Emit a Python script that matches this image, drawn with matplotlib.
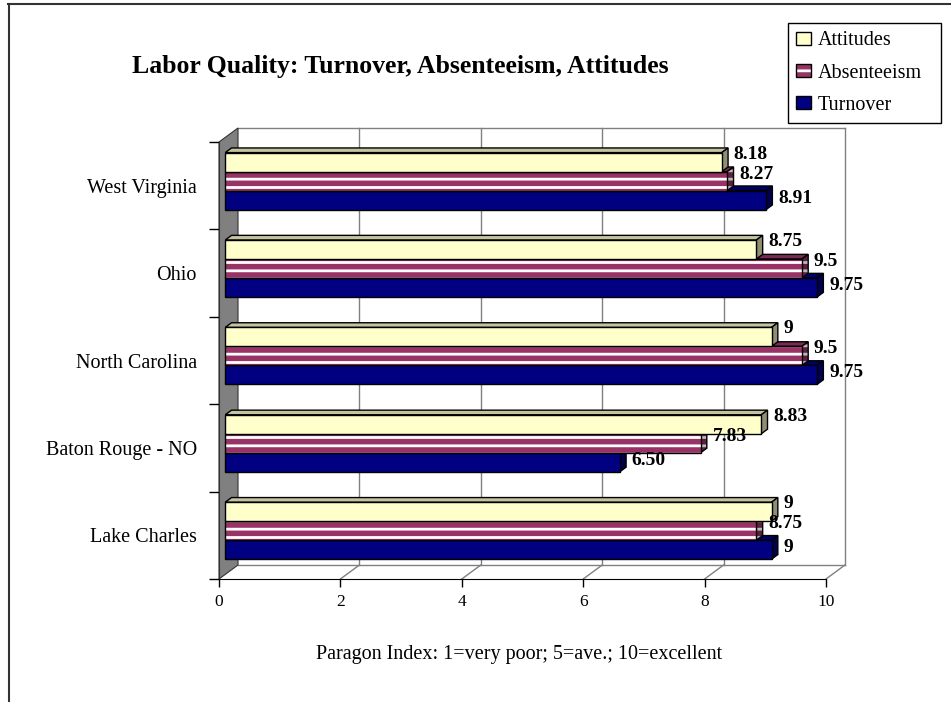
import matplotlib.pyplot as plt
from matplotlib.patches import Patch, Polygon
from matplotlib.lines import Line2D

plt.rcParams['font.family'] = ['Liberation Serif', 'DejaVu Serif']
plt.rcParams['hatch.linewidth'] = 2.0

categories = ['Lake Charles', 'Baton Rouge - NO', 'North Carolina', 'Ohio', 'West Virginia']
turnover = [9, 6.50, 9.75, 9.75, 8.91]
absenteeism = [8.75, 7.83, 9.5, 9.5, 8.27]
attitudes = [9, 8.83, 9, 8.75, 8.18]
turnover_labels = ['9', '6.50', '9.75', '9.75', '8.91']
absenteeism_labels = ['8.75', '7.83', '9.5', '9.5', '8.27']
attitudes_labels = ['9', '8.83', '9', '8.75', '8.18']
x_ticks = [0, 2, 4, 6, 8, 10]

W, H = 951, 702
fig = plt.figure(figsize=(W / 100, H / 100), dpi=100)

# front plane of the 3-D frame
left, right, top, bottom = 219, 826, 142, 579
ax = fig.add_axes([left / W, (H - bottom) / H, (right - left) / W, (bottom - top) / H])
ax.set_facecolor('none')
ax.set_xlim(0, 10)
ax.set_ylim(0, len(categories))

px_x = (right - left) / 10.0
px_y = (bottom - top) / len(categories)
# chart depth offset (pixels -> data units)
ddx, ddy = 19 / px_x, 14 / px_y
# bar placement inside the depth
f0, f1 = 0.33, 0.66
bx0, by0 = f0 * ddx, f0 * ddy
bdx, bdy = (f1 - f0) * ddx, (f1 - f0) * ddy
bh = 19 / px_y

wall_col = '#808080'
grid_col = '#808080'

# left side wall
ax.add_patch(Polygon([(0, 0), (ddx, ddy), (ddx, 5 + ddy), (0, 5)], closed=True,
                     facecolor=wall_col, edgecolor='#333333', lw=0.8, zorder=0.5, clip_on=False))
# back wall border and grid
ax.plot([ddx, 10 + ddx], [5 + ddy, 5 + ddy], color=grid_col, lw=1, zorder=0.4, clip_on=False)
ax.plot([10 + ddx, 10 + ddx], [ddy, 5 + ddy], color=grid_col, lw=1, zorder=0.4, clip_on=False)
ax.plot([ddx, 10 + ddx], [ddy, ddy], color=grid_col, lw=1, zorder=0.4, clip_on=False)
for t in x_ticks[1:-1]:
    ax.plot([t + ddx, t + ddx], [ddy, 5 + ddy], color=grid_col, lw=1, zorder=0.4, clip_on=False)
for t in x_ticks[1:]:
    ax.plot([t, t + ddx], [0, ddy], color=grid_col, lw=1, zorder=0.4, clip_on=False)


def box(value, yc, front, top_col, end_col, z, striped=False):
    yb, yt = yc - bh / 2 + by0, yc + bh / 2 + by0
    x1 = bx0 + value
    top_face = [(bx0, yt), (x1, yt), (x1 + bdx, yt + bdy), (bx0 + bdx, yt + bdy)]
    end_face = [(x1, yb), (x1 + bdx, yb + bdy), (x1 + bdx, yt + bdy), (x1, yt)]
    ax.add_patch(Polygon(top_face, closed=True, facecolor=top_col, edgecolor='black',
                         lw=1, zorder=z, clip_on=False))
    if striped:
        ax.add_patch(Polygon(end_face, closed=True, facecolor=end_col, edgecolor='#b8b8b8',
                             hatch='--', lw=0, zorder=z, clip_on=False))
        ax.add_patch(Polygon(end_face, closed=True, fill=False, edgecolor='black',
                             lw=1, zorder=z, clip_on=False))
        ax.barh(yc + by0, value, height=bh, left=bx0, color=front, edgecolor='white',
                hatch='--', lw=0, zorder=z, clip_on=False)
        ax.barh(yc + by0, value, height=bh, left=bx0, fill=False, edgecolor='black',
                lw=1, zorder=z, clip_on=False)
    else:
        ax.add_patch(Polygon(end_face, closed=True, facecolor=end_col, edgecolor='black',
                             lw=1, zorder=z, clip_on=False))
        ax.barh(yc + by0, value, height=bh, left=bx0, color=front, edgecolor='black',
                lw=1, zorder=z, clip_on=False)


series = [
    (turnover, turnover_labels, -bh, '#000080', '#000066', '#00004D', False, -2),
    (absenteeism, absenteeism_labels, 0, '#993366', '#7A2952', '#5C1F3D', True, -7),
    (attitudes, attitudes_labels, bh, '#FFFFCC', '#C4C4A2', '#8F8F73', False, -8),
]

z = 2
for i in range(len(categories)):
    for vals, labs, shift, front, top_col, end_col, striped, dy in series:
        yc = i + 0.5 + shift
        box(vals[i], yc, front, top_col, end_col, z, striped)
        z += 1
        ax.text(bx0 + vals[i] + 12 / px_x, yc + by0 - dy / px_y, labs[i],
                ha='left', va='center', fontsize=14, fontweight='bold', zorder=50)

# axes: front edge, ticks and labels
for s in ['top', 'right']:
    ax.spines[s].set_visible(False)
ax.spines['bottom'].set_color('black')
ax.spines['left'].set_color('#333333')
ax.spines['bottom'].set_zorder(60)
ax.spines['left'].set_zorder(60)
ax.set_xticks(x_ticks)
ax.set_xticklabels([str(t) for t in x_ticks])
ax.tick_params(axis='x', direction='out', length=6, width=1, pad=5, labelsize=12.5)
ax.set_yticks(range(len(categories) + 1))
ax.set_yticklabels([])
ax.tick_params(axis='y', direction='out', length=7, width=1)
ax.set_yticks([i + 0.5 for i in range(len(categories))], minor=True)
ax.set_yticklabels(categories, minor=True)
ax.tick_params(axis='y', which='minor', length=0, pad=16, labelsize=14.5)

fig.text(400 / W, 1 - 67 / H, 'Labor Quality: Turnover, Absenteeism, Attitudes',
         ha='center', va='center', fontsize=18.5, fontweight='bold')
fig.text(519 / W, 1 - 655 / H, 'Paragon Index: 1=very poor; 5=ave.; 10=excellent',
         ha='center', va='center', fontsize=14.5)

handles = [
    Patch(facecolor='#FFFFCC', edgecolor='black', lw=1),
    (Patch(facecolor='#993366', edgecolor='white', hatch='--', lw=0),
     Patch(fill=False, edgecolor='black', lw=1)),
    Patch(facecolor='#000080', edgecolor='black', lw=1),
]
leg = fig.legend(handles, ['Attitudes', 'Absenteeism', 'Turnover'], loc='upper left',
                 bbox_to_anchor=(788 / W, 1 - 124 / H, 153 / W, 101 / H), mode='expand',
                 borderaxespad=0, fancybox=False, edgecolor='black', framealpha=1,
                 fontsize=14.5, handlelength=0.7, handleheight=0.6, handletextpad=0.35,
                 labelspacing=0.65, borderpad=0.42)
leg.get_frame().set_linewidth(1)

# outer frame
fig.add_artist(Line2D([8 / W, 1], [1 - 4 / H, 1 - 4 / H], color='#333333', lw=1.5))
fig.add_artist(Line2D([9 / W, 9 / W], [0, 1 - 4 / H], color='#333333', lw=1.5))

fig.savefig('out.png', dpi=100)
